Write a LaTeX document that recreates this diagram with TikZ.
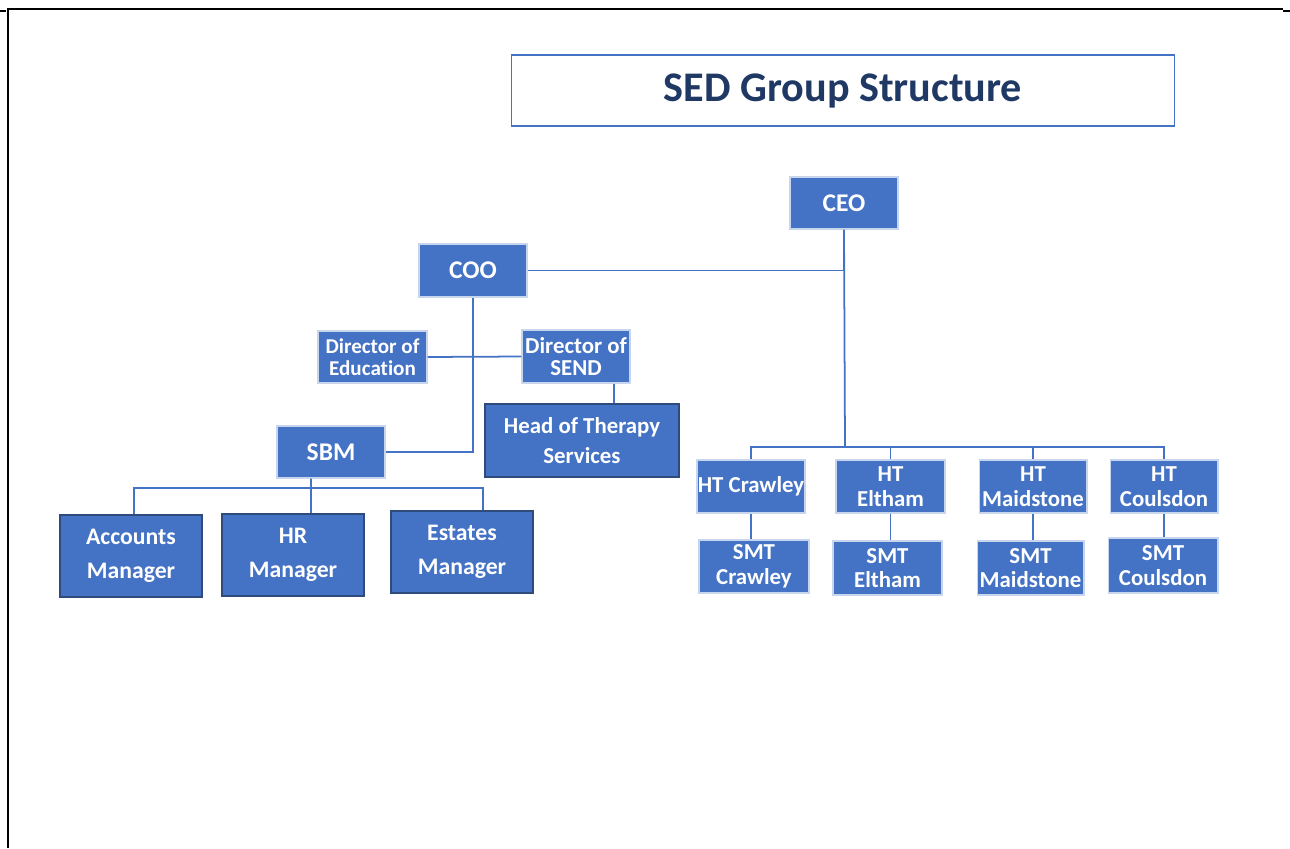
\documentclass[tikz,border=0pt]{standalone}
\usepackage{fontspec}
\setmainfont[Ligatures=CommonOff]{Carlito}
\definecolor{boxblue}{HTML}{4472C4}
\definecolor{darkedge}{HTML}{2F4B7C}
\definecolor{titleblue}{HTML}{203864}
\begin{document}
\begin{tikzpicture}[x=0.02cm,y=-0.02cm]
    \tikzstyle{box}=[draw=white!70!boxblue,fill=boxblue,text=white,font=\bfseries\fontsize{13}{14}\selectfont,align=center,inner sep=0pt,line width=0.6pt]
    \tikzstyle{bigbox}=[box,draw=darkedge,line width=1pt,font=\bfseries\fontsize{13.5}{19}\selectfont]
    \tikzstyle{link}=[draw=boxblue,line width=1pt]
    \useasboundingbox (0,0) rectangle (1290,848);
    % page frame
    \draw[line width=1pt] (7,9) -- (1283,9);
    \draw[line width=0.8pt] (8,9) -- (8,848);
    \draw[line width=1.5pt] (0,11) -- (6,11) (1283,11) -- (1290,11);
    % title
    \node[draw=boxblue,line width=0.6pt,minimum width=13.28cm,minimum height=1.42cm,text=titleblue,font=\bfseries\fontsize{24}{28}\selectfont] (title) at (843,90.5) {SED Group Structure};
    % top
    \node[box,minimum width=2.16cm,minimum height=1.04cm,font=\bfseries\fontsize{14.5}{16}\selectfont] (ceo) at (844,203) {CEO};
    \node[box,minimum width=2.16cm,minimum height=1.06cm,font=\bfseries\fontsize{14.5}{16}\selectfont] (coo) at (473,270.5) {COO};
    \node[box,minimum width=2.18cm,minimum height=1.04cm,font=\bfseries\fontsize{12}{12.5}\selectfont] (dired) at (372.5,357) {Director of\\Education};
    \node[box,minimum width=2.16cm,minimum height=1.06cm,font=\bfseries\fontsize{13}{13}\selectfont] (dirsend) at (576,356.5) {Director of\\SEND};
    \node[bigbox,minimum width=3.88cm,minimum height=1.46cm,font=\bfseries\fontsize{13}{17}\selectfont] (therapy) at (582,440.5) {Head of Therapy\\Services};
    \node[box,minimum width=2.16cm,minimum height=1.04cm,font=\bfseries\fontsize{14.5}{16}\selectfont] (sbm) at (331,452) {SBM};
    % managers
    \node[bigbox,minimum width=2.84cm,minimum height=1.64cm] (acc) at (131,556) {Accounts\\Manager};
    \node[bigbox,minimum width=2.84cm,minimum height=1.64cm] (hr) at (293,555) {HR\\Manager};
    \node[bigbox,minimum width=2.84cm,minimum height=1.64cm] (est) at (462,552) {Estates\\Manager};
    % schools
    \node[box,minimum width=2.16cm,minimum height=1.06cm] (htcr) at (751,486.5) {HT Crawley};
    \node[box,minimum width=2.18cm,minimum height=1.06cm] (htel) at (890.5,486.5) {HT\\Eltham};
    \node[box,minimum width=2.16cm,minimum height=1.06cm] (htma) at (1033,486.5) {HT\\Maidstone};
    \node[box,minimum width=2.16cm,minimum height=1.06cm] (htco) at (1164,486.5) {HT\\Coulsdon};
    \node[box,minimum width=2.20cm,minimum height=1.06cm] (smtcr) at (754,566.5) {SMT\\Crawley};
    \node[box,minimum width=2.18cm,minimum height=1.08cm] (smtel) at (887.5,568) {SMT\\Eltham};
    \node[box,minimum width=2.14cm,minimum height=1.08cm] (smtma) at (1030.5,568) {SMT\\Maidstone};
    \node[box,minimum width=2.20cm,minimum height=1.10cm] (smtco) at (1163,565.5) {SMT\\Coulsdon};
    % connectors
    \coordinate (htbus) at (845,447);
    \coordinate (sbmbus) at (311,488);
    \draw[link] (ceo.south) |- (coo.east);
    \draw[link] (ceo.south) -- (htbus);
    \foreach \n in {htcr,htel,htma,htco}
      \draw[link] (htbus) -| (\n.north);
    \foreach \a/\b in {htcr/smtcr,htel/smtel,htma/smtma,htco/smtco}
      \draw[link] (\a.south) -- (\a.south |- \b.north);
    \draw[link] (coo.south) |- (sbm.east);
    \draw[link] (dired.east) -- (dirsend.west);
    \draw[link] ([xshift=0.76cm]dirsend.south) -- ([xshift=0.76cm]dirsend.south |- therapy.north);
    \draw[link] ([xshift=-0.4cm]sbm.south) -- (sbmbus);
    \draw[link] (sbmbus) -| ([xshift=0.06cm]acc.north);
    \draw[link] (sbmbus) -| ([xshift=0.36cm]hr.north);
    \draw[link] (sbmbus) -| ([xshift=0.42cm]est.north);
\end{tikzpicture}
\end{document}
